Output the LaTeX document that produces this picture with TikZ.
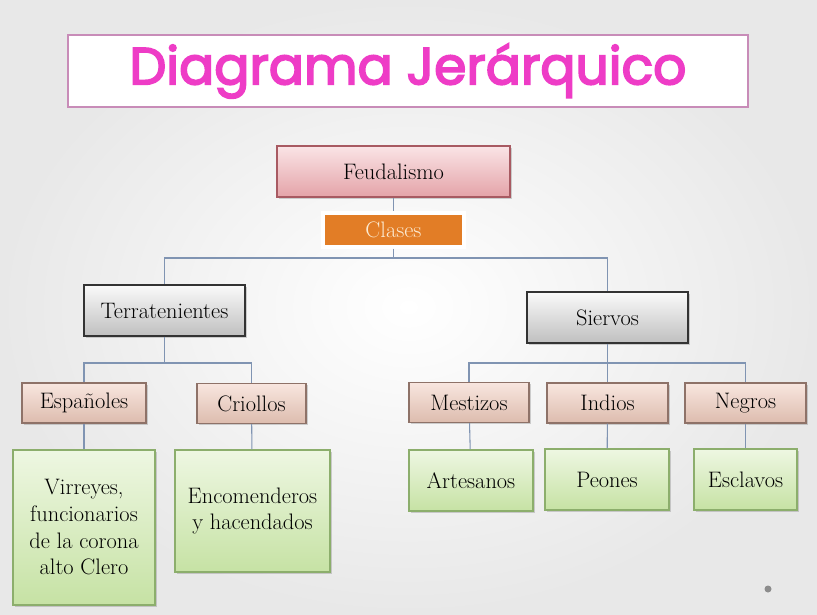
\documentclass[tikz,border=0pt]{standalone}
\usepackage{fontspec}
\usepackage{tikz}
\usetikzlibrary{shadows}
\newfontfamily\titlefont{Poppins}
\newcommand\thicktext[1]{\special{pdf:literal direct 1.3 w 2 Tr}#1\special{pdf:literal direct 0 Tr}}
\definecolor{linkc}{HTML}{8094B2}
\definecolor{titlec}{HTML}{EE3CC6}
\definecolor{titleframec}{HTML}{C88CB8}
\definecolor{feudtopc}{HTML}{FAE4E6}
\definecolor{feudbotc}{HTML}{E4A3A8}
\definecolor{feudframec}{HTML}{A85A62}
\definecolor{clasec}{HTML}{E27D26}
\definecolor{clasetextc}{HTML}{FCEBD2}
\definecolor{tantopc}{HTML}{F8E6DF}
\definecolor{tanbotc}{HTML}{DDBCAE}
\definecolor{tanframec}{HTML}{8E7268}
\definecolor{greentopc}{HTML}{EEF7E2}
\definecolor{greenbotc}{HTML}{C6E2A4}
\definecolor{greenframec}{HTML}{8CAE6C}
\tikzset{
  box/.style={rectangle, inner sep=2pt, align=center, font=\fontsize{16.8}{20}\selectfont,
    drop shadow={shadow xshift=1.2pt, shadow yshift=-1.4pt, opacity=0.35}},
  feudbox/.style={box, draw=feudframec, line width=0.8pt, top color=feudtopc, bottom color=feudbotc},
  clasebox/.style={box, draw=white, line width=2.5pt, fill=clasec, text=clasetextc},
  graybox/.style={box, draw=black!80, line width=0.9pt, top color=black!2, bottom color=black!25},
  tanbox/.style={box, draw=tanframec, line width=0.8pt, top color=tantopc, bottom color=tanbotc},
  greenbox/.style={box, draw=greenframec, line width=0.8pt, top color=greentopc, bottom color=greenbotc},
  link/.style={draw=linkc, line width=0.8pt},
}
\begin{document}
\begin{tikzpicture}[x=0.75pt,y=-0.75pt]
\useasboundingbox (0,0) rectangle (817,614);
\shade[inner color=white, outer color=black!9] (0,0) rectangle (817,614);

% titulo
\node[draw=titleframec, line width=1.6pt, fill=white, minimum width=510pt, minimum height=54pt,
  text=titlec, font=\titlefont\fontsize{39}{44}\selectfont] (title) at (408,71) {\thicktext{Diagrama Jerárquico}};

% niveles superiores
\node[feudbox, minimum width=174.75pt, minimum height=38.25pt] (feud) at (393.5,171.5) {Feudalismo};
\node[clasebox, minimum width=105.75pt, minimum height=25.5pt] (clases) at (393.5,230) {Clases};
\node[graybox, minimum width=120.75pt, minimum height=38.25pt] (terra) at (164.5,310.5) {Terratenientes};
\node[graybox, minimum width=120.75pt, minimum height=38.25pt] (siervos) at (607.5,317.5) {Siervos};

% grupos
\node[tanbox, minimum width=93pt, minimum height=30pt] (espan) at (84,403) {Españoles};
\node[tanbox, minimum width=81.75pt, minimum height=30pt] (criollos) at (251.5,403.5) {Criollos};
\node[tanbox, minimum width=90pt, minimum height=30pt] (mestizos) at (469,402.5) {Mestizos};
\node[tanbox, minimum width=90.75pt, minimum height=30pt] (indios) at (607.5,403) {Indios};
\node[tanbox, minimum width=90.75pt, minimum height=30pt] (negros) at (745.5,403) {Negros};

% oficios
\node[greenbox, minimum width=106.5pt, minimum height=116.25pt] (virreyes) at (84,527.5) {Virreyes,\\funcionarios\\de la corona\\alto Clero};
\node[greenbox, minimum width=116.25pt, minimum height=91.5pt] (encom) at (252.5,511) {Encomenderos\\y hacendados};
\node[greenbox, minimum width=93pt, minimum height=45.75pt] (artes) at (471,480.5) {Artesanos};
\node[greenbox, minimum width=93pt, minimum height=45.75pt] (peones) at (607,479.5) {Peones};
\node[greenbox, minimum width=77.25pt, minimum height=45.75pt] (esclavos) at (745.5,479.5) {Esclavos};

% conexiones
\coordinate (busclases) at (393.5,258);
\coordinate (busterra) at (164.5,363);
\coordinate (bussiervos) at (607.5,363);
\draw[link] (feud) -- (clases);
\draw[link] (clases) -- (busclases);
\draw[link] (busclases) -| (terra);
\draw[link] (busclases) -| (siervos);
\draw[link] (terra) -- (busterra);
\draw[link] (busterra) -| (espan);
\draw[link] (busterra) -| (criollos);
\draw[link] (siervos) -- (bussiervos);
\draw[link] (bussiervos) -| (mestizos);
\draw[link] (bussiervos) -- (indios);
\draw[link] (bussiervos) -| (negros);
\draw[link] (espan) -- (virreyes);
\draw[link] (criollos) -- (encom);
\draw[link] (mestizos) -- (artes);
\draw[link] (indios) -- (peones);
\draw[link] (negros) -- (esclavos);

\fill[black!45] (768,589) circle (3.5);
\end{tikzpicture}
\end{document}
